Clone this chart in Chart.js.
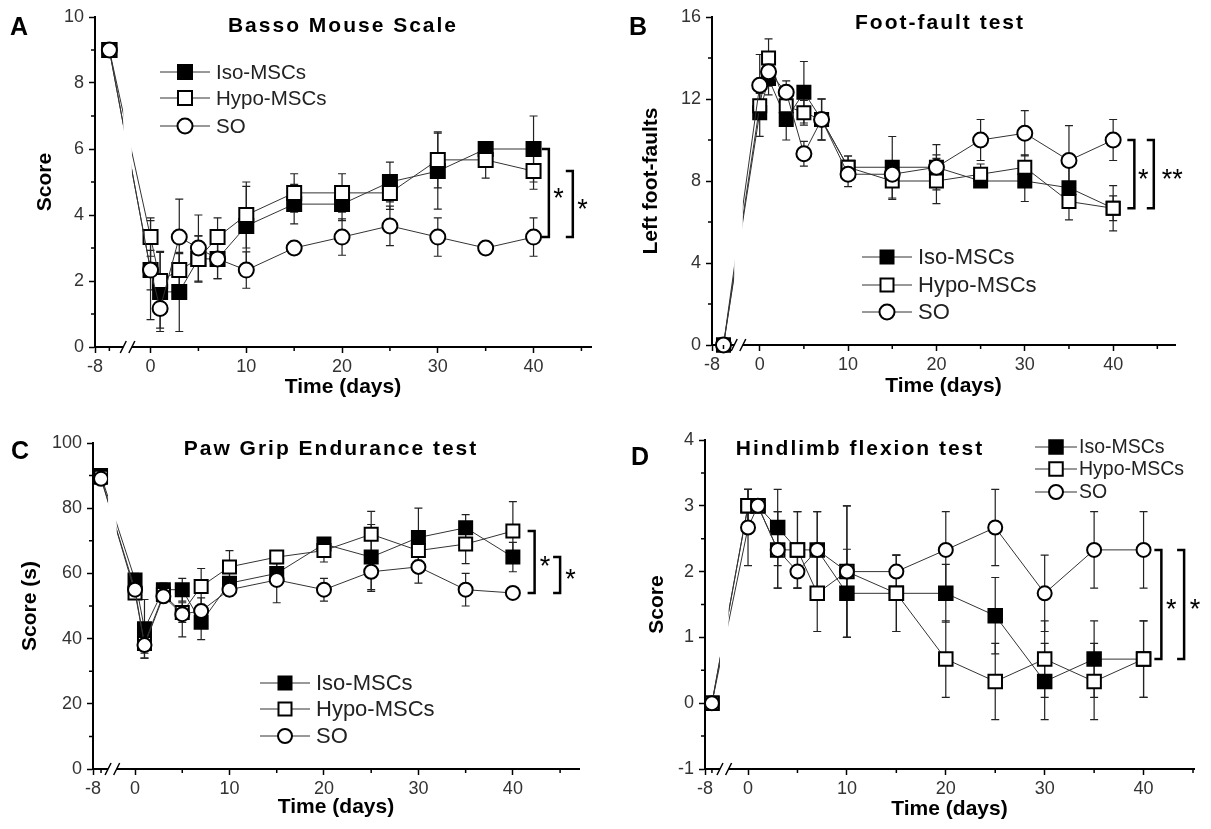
<!DOCTYPE html>
<html>
<head>
<meta charset="utf-8">
<script src="https://cdn.jsdelivr.net/npm/chart.js@4.4.1/dist/chart.umd.min.js"></script>
<style>
  body { margin: 0; background: #fff; width: 1211px; height: 829px; position: relative; overflow: hidden;
         font-family: "Liberation Sans", Arial, sans-serif; }
  canvas { position: absolute; }
  .lbl { position: absolute; font-weight: bold; color: #000; transform: translate(-50%, -50%); white-space: nowrap; }
  .ttl { font-size: 21px; letter-spacing: 2px; }
  .let { font-size: 25px; }
</style>
</head>
<body>
<canvas id="bms" width="605" height="414" style="left:0;top:0"></canvas>
<canvas id="ff" width="606" height="414" style="left:605px;top:0"></canvas>
<canvas id="grip" width="605" height="415" style="left:0;top:414px"></canvas>
<canvas id="hl" width="606" height="415" style="left:605px;top:414px"></canvas>

<div class="lbl let" style="left:19px;top:26px">A</div>
<div class="lbl ttl" style="left:343px;top:25px">Basso Mouse Scale</div>
<div class="lbl let" style="left:638px;top:26px">B</div>
<div class="lbl ttl" style="left:940px;top:22px">Foot-fault test</div>
<div class="lbl let" style="left:20px;top:450px">C</div>
<div class="lbl ttl" style="left:331px;top:448px">Paw Grip Endurance test</div>
<div class="lbl let" style="left:640px;top:456px">D</div>
<div class="lbl ttl" style="left:860px;top:448px">Hindlimb flexion test</div>

<script>
const FONT = '"Liberation Sans", Arial, sans-serif';

// days of measurement (baseline before injury is -7)
const days = [-7, 0, 1, 3, 5, 7, 10, 15, 20, 25, 30, 35, 40];
const seriesNames = ['Iso-MSCs', 'Hypo-MSCs', 'SO'];
const xTickValues = [0, 10, 20, 30, 40];
const xMinorTicks = [5, 15, 25, 35, 45];

// A - Basso Mouse Scale
const bmsIso     = [9, 2.33, 1.67, 1.67, 2.67, 2.67, 3.67, 4.33, 4.33, 5, 5.33, 6, 6];
const bmsIsoErr  = [0, 0.6, 1.2, 1.2, 0.7, 0.6, 1.2, 0.6, 0.5, 0.6, 1.15, 0.2, 1.0];
const bmsHypo    = [9, 3.33, 2, 2.33, 2.67, 3.33, 4, 4.67, 4.67, 4.67, 5.67, 5.67, 5.33];
const bmsHypoErr = [0, 0.58, 0.9, 0.5, 0.7, 0.58, 1.0, 0.58, 0.58, 0.5, 0.85, 0.55, 0.55];
const bmsSO      = [9, 2.33, 1.17, 3.33, 3, 2.67, 2.33, 3, 3.33, 3.67, 3.33, 3, 3.33];
const bmsSOErr   = [0, 1.5, 0.6, 1.15, 1.0, 0.6, 0.55, 0.15, 0.55, 0.6, 0.58, 0.1, 0.58];

// B - Foot-fault test
const ffIso     = [0, 11.33, 13, 11, 12.33, 11, 8.67, 8.67, 8.67, 8, 8, 7.67, 6.67];
const ffIsoErr  = [0, 1.15, 0.8, 1.0, 1.5, 1.0, 0.55, 1.5, 1.1, 0.3, 1.0, 1.0, 0.6];
const ffHypo    = [0, 11.67, 14, 11.67, 11.33, 11, 8.67, 8, 8, 8.33, 8.67, 7, 6.67];
const ffHypoErr = [0, 0.6, 0.93, 0.5, 0.6, 1.0, 0.55, 0.9, 1.1, 0.5, 0.6, 0.9, 1.1];
const ffSO      = [0, 12.67, 13.33, 12.33, 9.33, 11, 8.33, 8.33, 8.67, 10, 10.33, 9, 10];
const ffSOErr   = [0, 1.5, 0.7, 0.55, 0.6, 1.0, 0.6, 0.5, 0.6, 1.0, 1.1, 1.7, 1.0];

// C - Paw grip endurance
const gripIso     = [90, 58, 43, 55, 55, 45, 57, 60, 69, 65, 71, 74, 65];
const gripIsoErr  = [1, 2, 9, 2, 3.5, 5.3, 3, 3, 1, 10, 9, 4, 4.5];
const gripHypo    = [89.5, 54, 38.5, 53.5, 48, 56, 62, 65, 67, 72, 67, 69, 73];
const gripHypoErr = [1, 2, 3, 2, 3, 5.5, 5, 1, 3.5, 7, 3, 6, 9];
const gripSO      = [89, 55, 38, 53, 47.5, 48.5, 55, 58, 55, 60.5, 62, 55, 54];
const gripSOErr   = [1, 2, 4, 2, 7, 4, 2, 7, 3.5, 6, 5, 5, 1];

// D - Hindlimb flexion
const hlIso     = [0, 3, 3, 2.67, 2.33, 2.33, 1.67, 1.67, 1.67, 1.33, 0.33, 0.67, 0.67];
const hlIsoErr  = [0, 0.25, 0, 0.58, 0.58, 0.58, 0.67, 0.58, 0.44, 0.58, 0.58, 0.58, 0.58];
const hlHypo    = [0, 3, 3, 2.33, 2.33, 1.67, 2, 1.67, 0.67, 0.33, 0.67, 0.33, 0.67];
const hlHypoErr = [0, 0.25, 0, 0.58, 0.58, 0.58, 1.0, 0.58, 0.58, 0.58, 0.58, 0.58, 0.58];
const hlSO      = [0, 2.67, 3, 2.33, 2, 2.33, 2, 2, 2.33, 2.67, 1.67, 2.33, 2.33];
const hlSOErr   = [0, 0.58, 0, 0.58, 0.25, 0.58, 1.0, 0.25, 0.58, 0.58, 0.58, 0.58, 0.58];

const panels = [
  { canvas: 'bms', yTitle: 'Score', series: [[bmsIso, bmsIsoErr], [bmsHypo, bmsHypoErr], [bmsSO, bmsSOErr]],
    yMin: 0, yMax: 10, yStep: 2, yMinor: 1,
    tickPos: -5.8, basePos: -4.3, xMax: 46,
    yWidth: 95, xHeight: 67, padTop: 17, padRight: 14, yTitlePad: 33, xTitlePad: 14,
    sq: 14, cr: 7.5,
    legend: { x1: 160, x2: 210, tx: 216, rows: [72, 98, 126], size: 20.5 },
    brackets: [{ x: 41.6, a: 0, b: 2, label: '*', sx: 42.6 }, { x: 44.1, a: 1, b: 2, label: '*', sx: 45.1 }] },
  { canvas: 'ff', yTitle: 'Left foot-faults', series: [[ffIso, ffIsoErr], [ffHypo, ffHypoErr], [ffSO, ffSOErr]],
    yMin: 0, yMax: 16, yStep: 4, yMinor: 2,
    tickPos: -5.4, basePos: -4.1, xMax: 47,
    yWidth: 107, xHeight: 69, padTop: 17, padRight: 36, yTitlePad: 34, xTitlePad: 15,
    sq: 13, cr: 7.5,
    legend: { x1: 257, x2: 307, tx: 313, rows: [257, 285, 312], size: 22 },
    brackets: [{ x: 42.4, a: 2, b: 0, label: '*', sx: 43.4 }, { x: 44.6, a: 2, b: 1, label: '**', sx: 46.7 }] },
  { canvas: 'grip', yTitle: 'Score (s)', series: [[gripIso, gripIsoErr], [gripHypo, gripHypoErr], [gripSO, gripSOErr]],
    yMin: 0, yMax: 100, yStep: 20, yMinor: 10,
    tickPos: -4.45, basePos: -3.6, xMax: 47,
    yWidth: 93, xHeight: 60, padTop: 29, padRight: 26, yTitlePad: 18, xTitlePad: 9,
    sq: 13, cr: 7,
    legend: { x1: 260, x2: 310, tx: 316, rows: [269, 295, 322], size: 22 },
    brackets: [{ x: 42.3, a: 1, b: 2, label: '*', sx: 43.4 }, { x: 45.0, a: 0, b: 2, label: '*', sx: 46.1 }] },
  { canvas: 'hl', yTitle: 'Score', series: [[hlIso, hlIsoErr], [hlHypo, hlHypoErr], [hlSO, hlSOErr]],
    yMin: -1, yMax: 4, yStep: 1, yMinor: 0.5,
    tickPos: -4.35, basePos: -3.65, xMax: 45.1,
    yWidth: 100, xHeight: 60, padTop: 26, padRight: 17, yTitlePad: 40, xTitlePad: 7,
    sq: 13.5, cr: 7,
    legend: { x1: 430, x2: 472, tx: 474, rows: [33, 55, 78], size: 19.5 },
    brackets: [{ x: 41.8, a: 2, b: 0, label: '*', sx: 42.8 }, { x: 44.1, a: 2, b: 1, label: '*', sx: 45.2 }] }
];

function drawMarker(ctx, k, x, y, p) {
  ctx.save();
  ctx.lineWidth = 2;
  ctx.strokeStyle = '#000';
  ctx.fillStyle = k === 0 ? '#000' : '#fff';
  ctx.beginPath();
  if (k === 2) ctx.arc(x, y, p.cr, 0, Math.PI * 2);
  else ctx.rect(x - p.sq / 2, y - p.sq / 2, p.sq, p.sq);
  ctx.fill();
  ctx.stroke();
  ctx.restore();
}

const errorBars = {
  id: 'errorBars',
  beforeDatasetsDraw(chart) {
    const ctx = chart.ctx, ys = chart.scales.y;
    chart.data.datasets.forEach((ds, di) => {
      const meta = chart.getDatasetMeta(di);
      ctx.save();
      ctx.strokeStyle = '#222';
      ctx.lineWidth = 1.2;
      meta.data.forEach((pt, i) => {
        const e = ds.errors[i];
        if (!e) return;
        const top = ys.getPixelForValue(ds.data[i].y + e);
        const bot = ys.getPixelForValue(ds.data[i].y - e);
        ctx.beginPath();
        ctx.moveTo(pt.x, top); ctx.lineTo(pt.x, bot);
        ctx.moveTo(pt.x - 4, top); ctx.lineTo(pt.x + 4, top);
        ctx.moveTo(pt.x - 4, bot); ctx.lineTo(pt.x + 4, bot);
        ctx.stroke();
      });
      ctx.restore();
    });
  }
};

function decor(p) {
  return {
    id: 'decor',
    afterDatasetsDraw(chart) {
      const ctx = chart.ctx, xs = chart.scales.x, ys = chart.scales.y, area = chart.chartArea;
      ctx.save();

      // axis break: gap in lines and axis, then the two slashes
      const bx = xs.getPixelForValue(-2.4);
      const half = 4.3;
      ctx.fillStyle = '#fff';
      ctx.fillRect(bx - half, area.top, half * 2, area.bottom - area.top + 2);
      ctx.strokeStyle = '#000';
      ctx.lineWidth = 1.5;
      ctx.beginPath();
      [bx - half, bx + half].forEach(sx => {
        ctx.moveTo(sx - 3, area.bottom + 6);
        ctx.lineTo(sx + 3, area.bottom - 6);
      });
      ctx.stroke();

      // minor ticks
      ctx.lineWidth = 1.5;
      ctx.beginPath();
      for (let v = p.yMin + p.yMinor; v < p.yMax; v += p.yMinor * 2) {
        const py = ys.getPixelForValue(v);
        ctx.moveTo(area.left - 4, py); ctx.lineTo(area.left, py);
      }
      xMinorTicks.concat([p.basePos]).forEach(v => {
        if (v > p.xMax) return;
        const px = xs.getPixelForValue(v);
        ctx.moveTo(px, area.bottom); ctx.lineTo(px, area.bottom + 4);
      });
      ctx.stroke();

      // significance brackets
      const last = days.length - 1;
      ctx.lineWidth = 2.5;
      ctx.fillStyle = '#000';
      ctx.font = '27px ' + FONT;
      ctx.textAlign = 'center';
      ctx.textBaseline = 'middle';
      p.brackets.forEach(b => {
        const x = xs.getPixelForValue(b.x);
        const y1 = ys.getPixelForValue(p.series[b.a][0][last]);
        const y2 = ys.getPixelForValue(p.series[b.b][0][last]);
        ctx.beginPath();
        ctx.moveTo(x - 7, y1); ctx.lineTo(x, y1); ctx.lineTo(x, y2); ctx.lineTo(x - 7, y2);
        ctx.stroke();
        ctx.fillText(b.label, xs.getPixelForValue(b.sx), (y1 + y2) / 2 + 6);
      });

      // legend
      const lg = p.legend;
      ctx.font = lg.size + 'px ' + FONT;
      ctx.textAlign = 'left';
      ctx.fillStyle = '#222';
      lg.rows.forEach((ry, k) => {
        ctx.strokeStyle = '#333';
        ctx.lineWidth = 1;
        ctx.beginPath();
        ctx.moveTo(lg.x1, ry); ctx.lineTo(lg.x2, ry);
        ctx.stroke();
        drawMarker(ctx, k, (lg.x1 + lg.x2) / 2, ry, p);
        ctx.fillText(seriesNames[k], lg.tx, ry + 1);
      });
      ctx.restore();
    }
  };
}

function buildChart(p) {
  const toAxis = d => d < 0 ? p.tickPos + (d + 8) * (p.basePos - p.tickPos) : d;
  const looks = [
    { style: 'rect', bg: '#000', r: p.sq / Math.SQRT2, order: 3 },
    { style: 'rect', bg: '#fff', r: p.sq / Math.SQRT2, order: 2 },
    { style: 'circle', bg: '#fff', r: p.cr, order: 1 }
  ];
  const datasets = p.series.map((s, k) => ({
    label: seriesNames[k],
    data: s[0].map((v, i) => ({ x: toAxis(days[i]), y: v })),
    errors: s[1],
    showLine: true,
    borderColor: '#333',
    borderWidth: 1,
    tension: 0,
    pointStyle: looks[k].style,
    pointRadius: looks[k].r,
    pointBackgroundColor: looks[k].bg,
    pointBorderColor: '#000',
    pointBorderWidth: 2,
    order: looks[k].order,
    clip: false
  }));

  new Chart(document.getElementById(p.canvas), {
    type: 'scatter',
    data: { datasets: datasets },
    options: {
      responsive: false,
      animation: false,
      events: [],
      layout: { autoPadding: false, padding: { top: p.padTop, right: p.padRight, left: 0, bottom: 0 } },
      plugins: { legend: { display: false }, tooltip: { enabled: false } },
      scales: {
        x: {
          type: 'linear', min: p.tickPos, max: p.xMax,
          afterFit: s => { s.height = p.xHeight; },
          afterBuildTicks: s => { s.ticks = [p.tickPos].concat(xTickValues).map(v => ({ value: v })); },
          ticks: {
            autoSkip: false, maxRotation: 0, padding: 3, color: '#333',
            font: { size: 18, family: FONT },
            callback: v => Math.abs(v - p.tickPos) < 1e-6 ? '-8' : v
          },
          grid: { drawOnChartArea: false, tickLength: 6, tickWidth: 1.5, tickColor: '#000' },
          border: { color: '#000', width: 2 },
          title: { display: true, text: 'Time (days)', color: '#000',
                   font: { size: 21, weight: 'bold', family: FONT }, padding: { top: 0, bottom: p.xTitlePad } }
        },
        y: {
          min: p.yMin, max: p.yMax,
          afterFit: s => { s.width = p.yWidth; },
          ticks: { stepSize: p.yStep, padding: 5, color: '#333', font: { size: 18, family: FONT } },
          grid: { drawOnChartArea: false, tickLength: 6, tickWidth: 1.5, tickColor: '#000' },
          border: { color: '#000', width: 2 },
          title: { display: true, text: p.yTitle, color: '#000',
                   font: { size: 21, weight: 'bold', family: FONT }, padding: { top: p.yTitlePad, bottom: 0 } }
        }
      }
    },
    plugins: [errorBars, decor(p)]
  });
}

panels.forEach(buildChart);
</script>
</body>
</html>
